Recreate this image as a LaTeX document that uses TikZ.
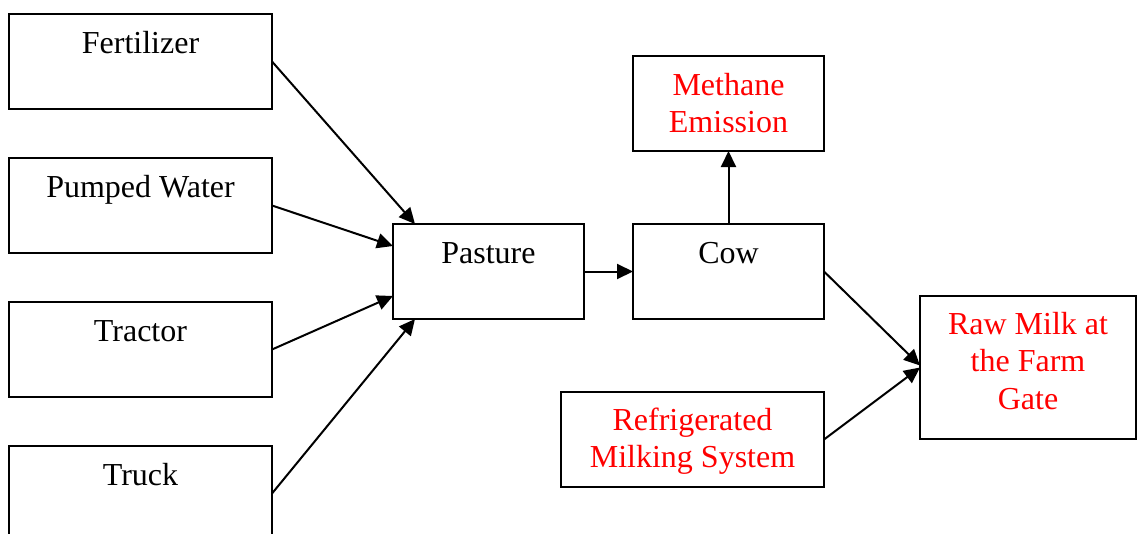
\documentclass[tikz,border=0pt]{standalone}
\usepackage{fontspec}
\setmainfont{Liberation Serif}
\usetikzlibrary{arrows.meta}

\begin{document}
\begin{tikzpicture}[x=1pt,y=-1pt,
  box/.style={draw, line width=2pt, inner sep=0pt, outer sep=0pt,
              anchor=north west, minimum height=95pt},
  lbl/.style={inner sep=0pt, anchor=base,
              font=\fontsize{32}{37.8}\selectfont},
  red lbl/.style={lbl, text=red},
  arr/.style={line width=2pt, -{Triangle[length=16pt,width=15pt]}}]

  % page frame
  \clip (0,0) rectangle (1137,533);

  % input boxes on the left
  \node[box, minimum width=263pt] (fert)    at (9,14)  {};
  \node[box, minimum width=263pt] (water)   at (9,158) {};
  \node[box, minimum width=263pt] (tractor) at (9,302) {};
  \node[box, minimum width=263pt] (truck)   at (9,446) {};

  % process chain
  \node[box, minimum width=191pt] (pasture) at (393,224) {};
  \node[box, minimum width=191pt] (cow)     at (633,224) {};
  \node[box, minimum width=191pt] (methane) at (633,56)  {};
  \node[box, minimum width=263pt] (refr)    at (561,392) {};
  \node[box, minimum width=216pt, minimum height=143pt] (raw) at (920,296) {};

  % box texts
  \node[lbl] (fert-t)    at ([yshift=-39pt]fert.north)    {Fertilizer};
  \node[lbl] (water-t)   at ([yshift=-39pt]water.north)   {Pumped Water};
  \node[lbl] (tractor-t) at ([yshift=-39pt]tractor.north) {Tractor};
  \node[lbl] (truck-t)   at ([yshift=-39pt]truck.north)   {Truck};
  \node[lbl] (pasture-t) at ([yshift=-39pt]pasture.north) {Pasture};
  \node[lbl] (cow-t)     at ([yshift=-39pt]cow.north)     {Cow};
  \node[red lbl] (methane-t) at ([yshift=-39pt]methane.north)
    {\begin{tabular}[t]{@{}c@{}}Methane\\Emission\end{tabular}};
  \node[red lbl] (refr-t) at ([yshift=-38pt]refr.north)
    {\begin{tabular}[t]{@{}c@{}}Refrigerated\\Milking System\end{tabular}};
  \node[red lbl] (raw-t) at ([yshift=-38pt]raw.north)
    {\begin{tabular}[t]{@{}c@{}}Raw Milk at\\the Farm\\Gate\end{tabular}};

  % flows
  \draw[arr] (fert.east)    -- ([xshift=22pt]pasture.north west);
  \draw[arr] (water.east)   -- ([yshift=-22pt]pasture.north west);
  \draw[arr] (tractor.east) -- ([yshift=23pt]pasture.south west);
  \draw[arr] (truck.east)   -- ([xshift=22pt]pasture.south west);
  \draw[arr] (pasture.east) -- (cow.west);
  \draw[arr] (cow.north)    -- (methane.south);
  \draw[arr] (cow.east)     -- ([yshift=2pt]raw.west);
  \draw[arr] (refr.east)    -- (raw.west);
\end{tikzpicture}
\end{document}
